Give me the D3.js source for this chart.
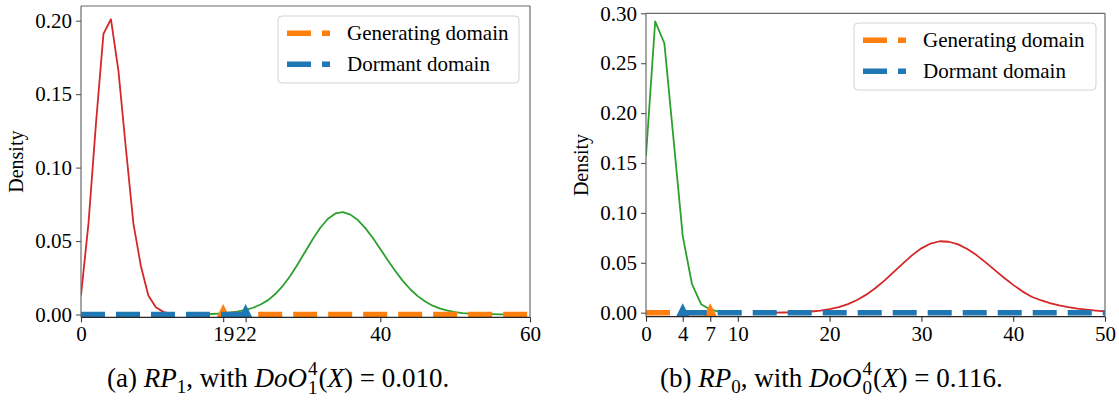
<!DOCTYPE html>
<html><head><meta charset="utf-8">
<script src="https://cdn.jsdelivr.net/npm/d3@7"></script>
<style>
body{margin:0;background:#fff}
svg text{font-family:"Liberation Serif","Times New Roman",serif !important;fill:#000}
</style>
</head><body>
<svg id="c" width="1119" height="412"></svg>
<script>
// ---------------- DATA ----------------
// Panel (a)
const aRedX = [0,1,2,3,4,5,6,7,8,9,10,11,12];
const aRedY = [0.013,0.062,0.130,0.191,0.201,0.166,0.113,0.062,0.033,0.013,0.005,0.0018,0.0005];
const aGreenX = [17,18,19,20,21,22,23,24,25,26,27,28,29,30,31,32,33,34,35,36,37,38,39,40,41,42,43,44,45,46,47,48,49,50,51,52,53,54,55,56,57];
const aGreenY = [0.0003,0.0005,0.0009,0.0014,0.0021,0.0031,0.0046,0.0068,0.0098,0.0141,0.0197,0.0266,0.0346,0.0431,0.0516,0.0592,0.0652,0.0688,0.0697,0.0680,0.0643,0.0588,0.0521,0.0446,0.0369,0.0296,0.0229,0.0172,0.0125,0.0088,0.0060,0.0040,0.0026,0.0016,0.0010,0.0006,0.0004,0.0003,0.0002,0.0001,0.0001];
const aGenerating = [19, 60];
const aDormant = [0, 22];
const aGenMarker = 19;
const aDorMarker = 22;
const aXTicks = [0, 19, 22, 40, 60];
const aYTicks = [0, 0.05, 0.10, 0.15, 0.20];

// Panel (b)
const bGreenX = [0,1,2,3,4,5,6,7,8];
const bGreenY = [0.157,0.292,0.270,0.174,0.077,0.029,0.0085,0.0033,0.0008];
const bRedX = [14,15,16,17,18,19,20,21,22,23,24,25,26,27,28,29,30,31,32,33,34,35,36,37,38,39,40,41,42,43,44,45,46,47,48,49,50];
const bRedY = [0.0001,0.0002,0.0004,0.0007,0.0012,0.0021,0.0035,0.0056,0.0086,0.0127,0.0181,0.0247,0.0324,0.0409,0.0495,0.0577,0.0645,0.0693,0.0716,0.0711,0.0685,0.0638,0.0577,0.0504,0.0427,0.0350,0.0279,0.0214,0.0160,0.0125,0.0097,0.0073,0.0055,0.0040,0.0030,0.0021,0.0014];
const bGenerating = [0, 7];
const bDormant = [4, 50];
const bGenMarker = 7;
const bDorMarker = 4;
const bXTicks = [0, 4, 7, 10, 20, 30, 40, 50];
const bYTicks = [0, 0.05, 0.10, 0.15, 0.20, 0.25, 0.30];

const markerY = 0.002;
const legendLabels = ["Generating domain", "Dormant domain"];
const yLabel = "Density";
const captionA = {letter:"a", sub:"1", sup:"4", value:"0.010"};
const captionB = {letter:"b", sub:"0", sup:"4", value:"0.116"};

// ---------------- DRAW ----------------
const C = {orange:"#ff7f0e", blue:"#1f77b4", green:"#2ca02c", red:"#d62728"};
const FONT = '"Liberation Serif","Times New Roman",serif';
const svg = d3.select("#c");
const FS = 21;

function drawPanel(cfg, idx){
  const g = svg.append("g");
  const x = d3.scaleLinear().domain(cfg.xDomain).range([cfg.left, cfg.right]);
  const y = d3.scaleLinear().domain(cfg.yDomain).range([cfg.bottom, cfg.top]);
  const clipId = "clip"+idx;
  svg.append("clipPath").attr("id", clipId).append("rect")
    .attr("x", cfg.left).attr("y", cfg.top)
    .attr("width", cfg.right-cfg.left).attr("height", cfg.bottom-cfg.top);
  const plot = g.append("g").attr("clip-path", `url(#${clipId})`);
  const line = d3.line().x(d=>x(d[0])).y(d=>y(d[1]));

  cfg.curves.forEach(c=>{
    plot.append("path").datum(d3.zip(c.xs, c.ys))
      .attr("d", line).attr("fill","none").attr("stroke", c.color)
      .attr("stroke-width", 1.8).attr("stroke-linejoin","round");
  });

  function domainLine(range, color){
    plot.append("path").datum(range.map(v=>[v,0]))
      .attr("d", line).attr("fill","none").attr("stroke", color)
      .attr("stroke-width", 5.5).attr("stroke-dasharray","24,11")
      .attr("stroke-linecap","butt");
  }
  function marker(v, color){
    const cx = x(v), cy = y(markerY);
    const h = 7.5;
    plot.append("path")
      .attr("d", `M${cx},${cy-h}L${cx+h},${cy+h}L${cx-h},${cy+h}Z`)
      .attr("fill", color);
  }
  domainLine(cfg.generating, C.orange);
  marker(cfg.genMarker, C.orange);
  domainLine(cfg.dormant, C.blue);
  marker(cfg.dorMarker, C.blue);

  // spines
  const sp = (x1,y1,x2,y2,col)=>g.append("line").attr("x1",x1).attr("y1",y1).attr("x2",x2).attr("y2",y2).attr("stroke",col).attr("stroke-width",1.2);
  sp(cfg.left,cfg.top,cfg.left,cfg.bottom,"#6b6b6b");
  sp(cfg.right,cfg.top,cfg.right,cfg.bottom,"#6b6b6b");
  sp(cfg.left,cfg.top,cfg.right,cfg.top,"#6b6b6b");
  sp(cfg.left,cfg.bottom,cfg.right,cfg.bottom,"#262626");

  // axes
  const xa = g.append("g").attr("transform",`translate(0,${cfg.bottom})`)
    .call(d3.axisBottom(x).tickValues(cfg.xTicks).tickSize(5).tickPadding(4).tickFormat(d3.format("d")));
  xa.attr("font-family", FONT).attr("font-size", FS);
  xa.select(".domain").remove();
  xa.selectAll(".tick line").attr("stroke","#333").attr("stroke-width",1.1);
  xa.selectAll("text").attr("fill","#000");

  const ya = g.append("g").attr("transform",`translate(${cfg.left},0)`)
    .call(d3.axisLeft(y).tickValues(cfg.yTicks).tickSize(5).tickPadding(4).tickFormat(d3.format(".2f")));
  ya.attr("font-family", FONT).attr("font-size", FS);
  ya.select(".domain").remove();
  ya.selectAll(".tick line").attr("stroke","#555").attr("stroke-width",1.1);
  ya.selectAll("text").attr("fill","#000");

  g.append("text").attr("transform",`translate(${cfg.ylabelX},${(cfg.top+cfg.bottom)/2}) rotate(-90)`)
    .attr("text-anchor","middle").style("font-size","20px").text(yLabel);

  // legend
  const L = cfg.legend;
  const lg = g.append("g");
  lg.append("rect").attr("x",L.x).attr("y",L.y).attr("width",L.w).attr("height",L.h)
    .attr("rx",4).attr("fill","#fff").attr("fill-opacity",0.8).attr("stroke","#d3d3d3").attr("stroke-width",1);
  [C.orange, C.blue].forEach((col,i)=>{
    const cy = L.y + 17.3 + i*31;
    lg.append("line").attr("x1",L.x+9).attr("x2",L.x+52).attr("y1",cy).attr("y2",cy)
      .attr("stroke",col).attr("stroke-width",5.5).attr("stroke-dasharray","24,11");
    lg.append("text").attr("x",L.x+69).attr("y",cy+6.7).style("font-size","21px").text(legendLabels[i]);
  });
}

drawPanel({
  left:81, right:530, top:6, bottom:317.3,
  xDomain:[0,60], yDomain:[-0.0019,0.21],
  xTicks:aXTicks, yTicks:aYTicks,
  curves:[{xs:aRedX, ys:aRedY, color:C.red},{xs:aGreenX, ys:aGreenY, color:C.green}],
  generating:aGenerating, dormant:aDormant, genMarker:aGenMarker, dorMarker:aDorMarker,
  ylabelX:23, legend:{x:278,y:16,w:241,h:67}
},0);

drawPanel({
  left:646, right:1105, top:13.3, bottom:316.7,
  xDomain:[0,50], yDomain:[-0.004,0.30],
  xTicks:bXTicks, yTicks:bYTicks,
  curves:[{xs:bGreenX, ys:bGreenY, color:C.green},{xs:bRedX, ys:bRedY, color:C.red}],
  generating:bGenerating, dormant:bDormant, genMarker:bGenMarker, dorMarker:bDorMarker,
  ylabelX:588, legend:{x:854,y:23,w:242,h:67}
},1);

// captions
function caption(x0, y0, cap){
  const CF = 27, SF = 19;
  const t1 = svg.append("text").attr("x",x0).attr("y",y0).style("font-size",CF+"px");
  t1.append("tspan").text(`(${cap.letter}) `);
  t1.append("tspan").style("font-style","italic").text("RP");
  t1.append("tspan").attr("dy",6).style("font-size",SF+"px").text(cap.sub);
  t1.append("tspan").attr("dy",-6).text(", with ");
  t1.append("tspan").style("font-style","italic").text("DoO");
  const end1 = x0 + t1.node().getComputedTextLength();
  const sup = svg.append("text").attr("x",end1+1).attr("y",y0-12).style("font-size",SF+"px").text(cap.sup);
  const sub = svg.append("text").attr("x",end1+1).attr("y",y0+7).style("font-size",SF+"px").text(cap.sub);
  const w = Math.max(sup.node().getComputedTextLength(), sub.node().getComputedTextLength());
  const t2 = svg.append("text").attr("x",end1+w+2).attr("y",y0).style("font-size",CF+"px");
  t2.append("tspan").text("(");
  t2.append("tspan").style("font-style","italic").text("X");
  t2.append("tspan").text(`) = ${cap.value}.`);
}
caption(107, 387, captionA);
caption(660, 387, captionB);
</script>
</body></html>
